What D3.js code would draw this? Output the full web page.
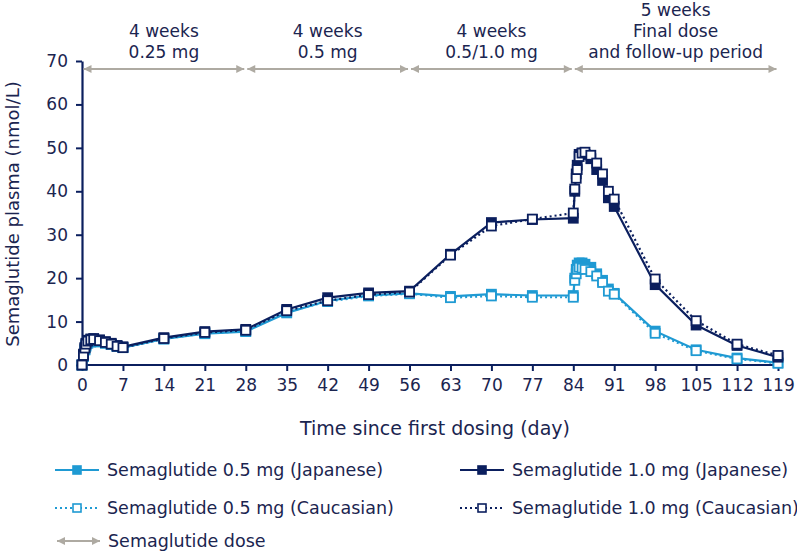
<!DOCTYPE html>
<html>
<head>
<meta charset="utf-8">
<script src="https://cdn.jsdelivr.net/npm/d3@7"></script>
<style>
  body { margin: 0; background: #fff; }
  svg { display: block; font-family: "DejaVu Sans", Verdana, sans-serif; }
</style>
</head>
<body>
<div id="chart"></div>
<script>
// sampling days (dosing weekly, intensive sampling after first and last dose)
var days = [0, 0.25, 0.5, 0.67, 1, 1.5, 2, 3, 4, 5, 6, 7, 14, 21, 28, 35, 42, 49, 56, 63, 70, 77,
            84, 84.25, 84.5, 84.67, 85, 85.5, 86, 87, 88, 89, 90, 91, 98, 105, 112, 119];

var jap05 = [0, 2.0, 3.5, 4.3, 5.0, 5.3, 5.5, 5.3, 5.0, 4.7, 4.3, 4.0, 6.0, 7.2, 7.7, 12.0, 14.8, 16.0, 16.5, 15.8, 16.3, 16.0,
             16.0, 20.0, 22.0, 23.0, 23.5, 23.5, 23.2, 22.5, 21.0, 19.5, 17.5, 16.5, 7.8, 3.5, 1.6, 0.5];
var cau05 = [0, 2.0, 3.5, 4.5, 5.2, 5.6, 5.8, 5.5, 5.1, 4.7, 4.3, 4.0, 6.0, 7.3, 7.8, 12.2, 14.6, 15.9, 16.4, 15.5, 15.9, 15.6,
             15.6, 19.5, 21.0, 22.0, 22.5, 22.3, 22.0, 21.5, 20.5, 19.0, 17.0, 16.3, 7.3, 3.3, 1.4, 0.4];
var jap10 = [0, 2.5, 4.0, 5.0, 5.7, 6.0, 6.1, 5.8, 5.4, 5.0, 4.5, 4.2, 6.3, 7.7, 8.2, 12.8, 15.5, 16.6, 17.0, 25.5, 32.8, 33.5,
             33.8, 40.0, 44.0, 46.0, 48.5, 48.8, 48.5, 47.5, 45.0, 42.5, 38.5, 36.5, 18.5, 9.2, 4.5, 1.8];
var cau10 = [0, 2.2, 3.9, 4.8, 5.5, 5.8, 5.9, 5.6, 5.2, 4.8, 4.3, 4.0, 6.1, 7.5, 8.0, 12.5, 14.8, 16.2, 16.8, 25.3, 32.0, 33.6,
             35.0, 40.5, 43.0, 45.0, 48.0, 48.8, 49.0, 48.3, 46.5, 44.0, 40.0, 38.2, 19.8, 10.2, 4.8, 2.2];

var xTicks = [0, 7, 14, 21, 28, 35, 42, 49, 56, 63, 70, 77, 84, 91, 98, 105, 112, 119];
var yTicks = [0, 10, 20, 30, 40, 50, 60, 70];

// dosing periods: start, end, label lines
var periodStart = [0, 28, 56, 84];
var periodEnd = [28, 56, 84, 119];
var periodLabels = [["4 weeks", "0.25 mg"], ["4 weeks", "0.5 mg"], ["4 weeks", "0.5/1.0 mg"],
                    ["5 weeks", "Final dose", "and follow-up period"]];

var navy = "#0b1f5e", light = "#1f9ad3", grey = "#aeaaa2", textCol = "#1b2550";

var series = [
  {name: "Semaglutide 0.5 mg (Japanese)", vals: jap05, color: light, dash: null, filled: true},
  {name: "Semaglutide 0.5 mg (Caucasian)", vals: cau05, color: light, dash: "2,3", filled: false},
  {name: "Semaglutide 1.0 mg (Japanese)", vals: jap10, color: navy, dash: null, filled: true},
  {name: "Semaglutide 1.0 mg (Caucasian)", vals: cau10, color: navy, dash: "2,3", filled: false}
];

var width = 797, height = 551;
var svg = d3.select("#chart").append("svg").attr("width", width).attr("height", height);

var x = d3.scaleLinear().domain([0, 119]).range([82, 778]);
var y = d3.scaleLinear().domain([0, 70]).range([365, 61]);

// arrow markers
var defs = svg.append("defs");
defs.append("marker").attr("id", "ah").attr("viewBox", "0 0 10 10").attr("refX", 10).attr("refY", 5)
  .attr("markerWidth", 10).attr("markerHeight", 8).attr("markerUnits", "userSpaceOnUse")
  .attr("orient", "auto-start-reverse")
  .append("path").attr("d", "M0,0L10,5L0,10Z").attr("fill", grey);

// axes
var xAxis = svg.append("g").attr("transform", "translate(0," + y(0) + ")")
  .call(d3.axisBottom(x).tickValues(xTicks).tickSize(6).tickPadding(8).tickSizeOuter(0));
var yAxis = svg.append("g").attr("transform", "translate(" + x(0) + ",0)")
  .call(d3.axisLeft(y).tickValues(yTicks).tickSize(6).tickPadding(8).tickSizeOuter(0));
[xAxis, yAxis].forEach(function(a) {
  a.select(".domain").attr("stroke", navy).attr("stroke-width", 2.2);
  a.selectAll(".tick line").attr("stroke", navy).attr("stroke-width", 2);
  a.selectAll(".tick text").attr("fill", textCol).style("font-size", "17px")
    .style("font-family", "DejaVu Sans, Verdana, sans-serif");
});
xAxis.select(".domain").attr("d", "M" + x(0) + ",0H" + (x(119) + 3));

svg.append("text").attr("x", 435).attr("y", 435).attr("text-anchor", "middle")
  .attr("fill", textCol).style("font-size", "19px").text("Time since first dosing (day)");
svg.append("text").attr("transform", "translate(19,214) rotate(-90)").attr("text-anchor", "middle")
  .attr("fill", textCol).style("font-size", "18px").text("Semaglutide plasma (nmol/L)");

// dose period arrows and labels
periodStart.forEach(function(s, i) {
  var x0 = x(s) + 1.5, x1 = x(periodEnd[i]) - 1.5;
  svg.append("line").attr("x1", x0).attr("x2", x1).attr("y1", 69).attr("y2", 69)
    .attr("stroke", grey).attr("stroke-width", 2)
    .attr("marker-start", "url(#ah)").attr("marker-end", "url(#ah)");
  var lines = periodLabels[i];
  var cx = (x0 + x1) / 2;
  lines.forEach(function(t, j) {
    svg.append("text").attr("x", cx).attr("y", 58 - (lines.length - 1 - j) * 21)
      .attr("text-anchor", "middle").attr("fill", textCol).style("font-size", "17px").text(t);
  });
});

// series lines and markers
var line = d3.line().x(function(d, i) { return x(days[i]); }).y(function(d) { return y(d); });
series.forEach(function(s) {
  var g = svg.append("g");
  g.append("path").datum(s.vals).attr("d", line).attr("fill", "none")
    .attr("stroke", s.color).attr("stroke-width", 2.2).attr("stroke-dasharray", s.dash);
  g.selectAll("rect").data(s.vals).enter().append("rect")
    .attr("x", function(d, i) { return x(days[i]) - 4.5; })
    .attr("y", function(d) { return y(d) - 4.5; })
    .attr("width", 9).attr("height", 9)
    .attr("fill", s.filled ? s.color : "#fff")
    .attr("stroke", s.color).attr("stroke-width", 1.8);
});

// legend
var legPos = [[55, 470], [55, 508], [460, 470], [460, 508]];
series.forEach(function(s, i) {
  var p = legPos[i];
  var g = svg.append("g").attr("transform", "translate(" + p[0] + "," + p[1] + ")");
  g.append("line").attr("x1", 0).attr("x2", 44).attr("y1", 0).attr("y2", 0)
    .attr("stroke", s.color).attr("stroke-width", 2).attr("stroke-dasharray", s.dash);
  g.append("rect").attr("x", 18).attr("y", -4).attr("width", 8).attr("height", 8)
    .attr("fill", s.filled ? s.color : "#fff").attr("stroke", s.color).attr("stroke-width", 1.6);
  g.append("text").attr("x", 52).attr("y", 6).attr("fill", textCol).style("font-size", "17.5px").text(s.name);
});
svg.append("line").attr("x1", 57).attr("x2", 100).attr("y1", 541).attr("y2", 541)
  .attr("stroke", grey).attr("stroke-width", 2)
  .attr("marker-start", "url(#ah)").attr("marker-end", "url(#ah)");
svg.append("text").attr("x", 108).attr("y", 547).attr("fill", textCol).style("font-size", "17.5px").text("Semaglutide dose");
</script>
</body>
</html>
